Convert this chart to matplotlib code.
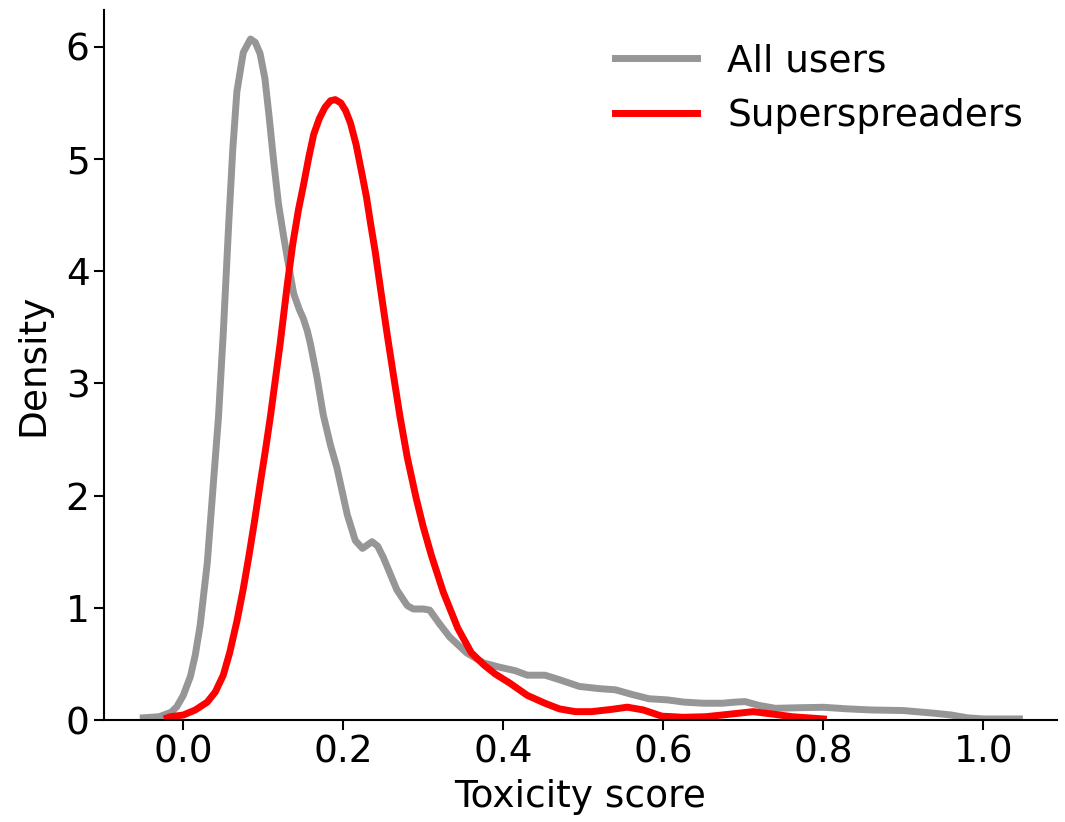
import matplotlib.pyplot as plt

# density curves
all_x = [-0.05, -0.03, -0.015, -0.008, 0.0, 0.009, 0.015, 0.021, 0.03, 0.0375, 0.044, 0.05, 0.057,
         0.062, 0.067, 0.075, 0.084, 0.09, 0.096, 0.102, 0.107, 0.113, 0.119, 0.125, 0.13, 0.138,
         0.145, 0.15, 0.155, 0.159, 0.167, 0.175, 0.184, 0.192, 0.205, 0.215, 0.224, 0.23, 0.236,
         0.243, 0.25, 0.267, 0.28, 0.2875, 0.3, 0.308, 0.32, 0.333, 0.354, 0.375, 0.396,
         0.415, 0.43, 0.452, 0.47, 0.495, 0.52, 0.54, 0.56, 0.582, 0.605, 0.626, 0.65, 0.674, 0.69,
         0.702, 0.72, 0.74, 0.77, 0.8, 0.83, 0.86, 0.9, 0.94, 0.96, 0.98, 1.0, 1.045]
all_y = [0.02, 0.03, 0.07, 0.12, 0.22, 0.39, 0.58, 0.84, 1.4, 2.1, 2.7, 3.45, 4.45,
         5.1, 5.6, 5.95, 6.07, 6.04, 5.94, 5.72, 5.4, 4.98, 4.6, 4.33, 4.12, 3.8,
         3.66, 3.58, 3.47, 3.35, 3.06, 2.72, 2.45, 2.25, 1.83, 1.6, 1.53, 1.56, 1.59,
         1.55, 1.45, 1.16, 1.02, 0.99, 0.99, 0.98, 0.86, 0.74, 0.6, 0.51, 0.47,
         0.44, 0.4, 0.4, 0.36, 0.3, 0.28, 0.27, 0.23, 0.19, 0.18, 0.16, 0.15, 0.15, 0.16,
         0.165, 0.13, 0.105, 0.11, 0.114, 0.1, 0.09, 0.085, 0.06, 0.045, 0.02, 0.01, 0.01]

ss_x = [-0.02, -0.016, 0.0, 0.015, 0.03, 0.04, 0.05, 0.058, 0.067, 0.075, 0.082, 0.089, 0.096,
        0.103, 0.109, 0.115, 0.121, 0.13, 0.137, 0.144, 0.15, 0.157, 0.163, 0.17, 0.177, 0.184,
        0.19, 0.197, 0.203, 0.209, 0.216, 0.223, 0.229, 0.234, 0.24, 0.247, 0.255, 0.263, 0.271,
        0.28, 0.291, 0.3, 0.31, 0.325, 0.343, 0.36, 0.376, 0.39, 0.408, 0.43, 0.452, 0.47, 0.49,
        0.51, 0.535, 0.555, 0.575, 0.598, 0.625, 0.653, 0.68, 0.712, 0.735, 0.761, 0.8]
ss_y = [0.02, 0.03, 0.045, 0.09, 0.16, 0.25, 0.4, 0.6, 0.88, 1.17, 1.46, 1.77, 2.1,
        2.42, 2.71, 3.03, 3.35, 3.88, 4.25, 4.55, 4.76, 5.02, 5.22, 5.36, 5.46, 5.52,
        5.53, 5.5, 5.43, 5.32, 5.13, 4.88, 4.66, 4.43, 4.17, 3.82, 3.43, 3.06, 2.7,
        2.34, 1.98, 1.72, 1.47, 1.14, 0.82, 0.6, 0.49, 0.41, 0.33, 0.22, 0.15, 0.1, 0.075,
        0.075, 0.095, 0.115, 0.09, 0.035, 0.025, 0.03, 0.05, 0.075, 0.055, 0.03, 0.01]

x_ticks = [0.0, 0.2, 0.4, 0.6, 0.8, 1.0]
y_ticks = [0, 1, 2, 3, 4, 5, 6]

fig = plt.figure(figsize=(10.65, 8.22), dpi=100)
ax = fig.add_axes([0.0977, 0.124, 0.8948, 0.864])

ax.plot(all_x, all_y, color='#969696', lw=5, label='All users', solid_joinstyle='round')
ax.plot(ss_x, ss_y, color='#ff0000', lw=5, label='Superspreaders', solid_joinstyle='round')

ax.set_xlim(-0.099, 1.092)
ax.set_ylim(0, 6.33)
ax.set_xticks(x_ticks)
ax.set_yticks(y_ticks)
ax.tick_params(labelsize=27, length=7, width=1.5)
ax.set_xlabel('Toxicity score', fontsize=27, labelpad=6)
ax.set_ylabel('Density', fontsize=27, labelpad=10)

for side in ['top', 'right']:
    ax.spines[side].set_visible(False)
for side in ['left', 'bottom']:
    ax.spines[side].set_linewidth(1.5)

ax.legend(loc='upper right', frameon=False, fontsize=27, handlelength=2.2)

fig.savefig('out.png', dpi=100)
